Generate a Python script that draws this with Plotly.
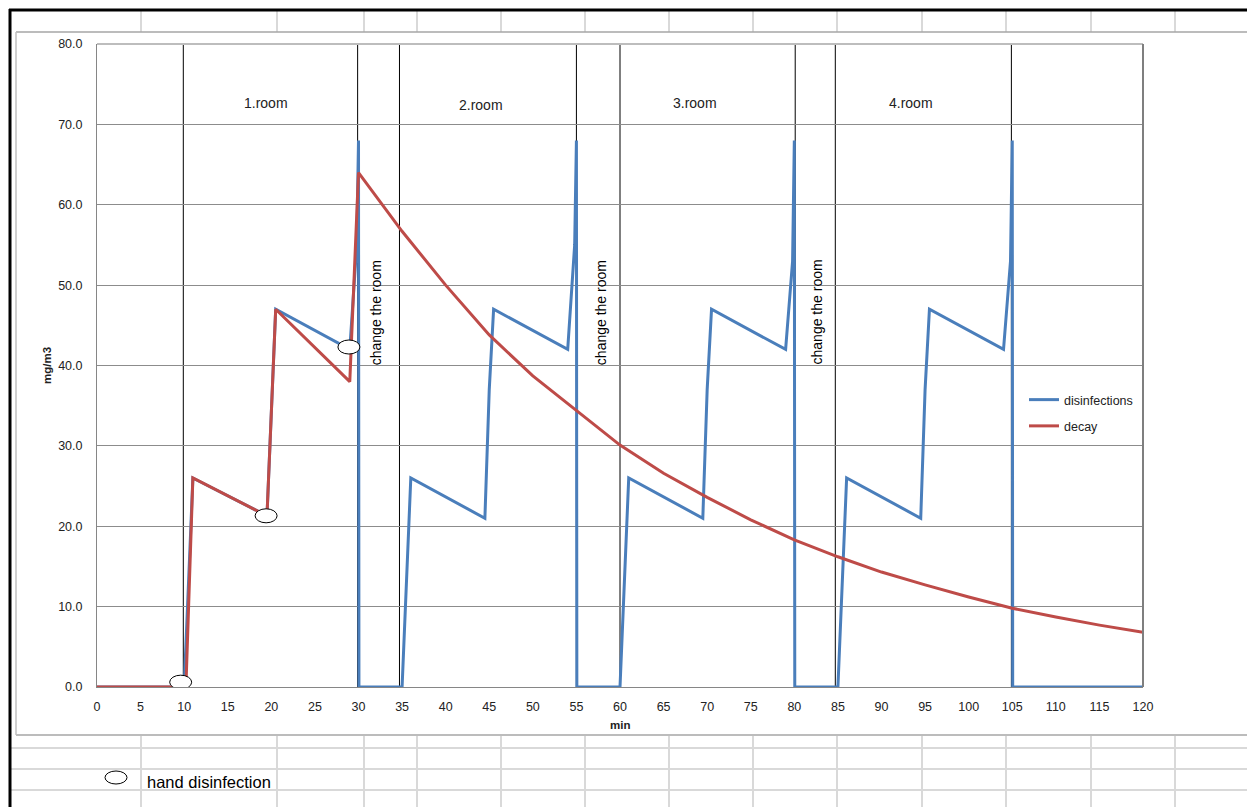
import plotly.graph_objects as go

# ---------------- data ----------------
disinf_x = [0, 10, 11, 19.5, 20.5, 29, 29.8, 30, 30.05,
            35, 36, 44.5, 45.0, 45.5, 54, 54.8, 55, 55.05,
            60, 61, 69.5, 70.0, 70.5, 79, 79.8, 80, 80.05,
            85, 86, 94.5, 95.0, 95.5, 104, 104.8, 105, 105.05, 120]
disinf_y = [0, 0, 26, 21.3, 47, 42, 55, 68, 0,
            0, 26, 21, 37, 47, 42, 55, 68, 0,
            0, 26, 21, 37, 47, 42, 53, 68, 0,
            0, 26, 21, 37, 47, 42, 53, 68, 0, 0]

decay_x = [0, 10.2, 11, 19.5, 20.5, 29, 30, 35, 40, 45, 50, 55, 60, 65, 70,
           75, 80, 85, 90, 95, 100, 105, 110, 115, 120]
decay_y = [0, 0, 26, 21.3, 47, 38, 64, 56.7, 50.0, 43.8, 38.7, 34.4, 30.1,
           26.6, 23.6, 20.8, 18.3, 16.2, 14.3, 12.7, 11.2, 9.8, 8.7, 7.7, 6.8]

hand_x = [9.6, 19.4, 28.9]
hand_y = [0.6, 21.3, 42.3]

divider_x = [9.9, 29.9, 34.7, 55.0, 60.0, 80.1, 84.7, 104.9]

room_labels = ["1.room", "2.room", "3.room", "4.room"]
room_label_x = [19.4, 44.0, 68.6, 93.4]
room_label_y = [72.7, 72.4, 72.7, 72.7]

change_label = "change the room"
change_x = [32.1, 57.9, 82.6]
change_y = [46.6, 46.6, 46.6]

x_ticks = list(range(0, 121, 5))
y_ticks = list(range(0, 81, 10))

# ---------------- geometry helpers ----------------
W, H = 1247, 807
L, R, T, B = 97, 1143, 44, 687   # plot area in screen pixels


def px(xp):
    return (xp - L) / (R - L)


def py(yp):
    return 1 - (yp - T) / (B - T)


BLUE = "#4a7ebb"
RED = "#be4b48"
FONT = "Liberation Sans"

fig = go.Figure()
fig.add_trace(go.Scatter(x=disinf_x, y=disinf_y, mode="lines", name="disinfections",
                         line=dict(color=BLUE, width=3), legendgroup="a"))
fig.add_trace(go.Scatter(x=decay_x, y=decay_y, mode="lines", name="decay",
                         line=dict(color=RED, width=3), legendgroup="b"))

shapes = []
for xv in divider_x:
    shapes.append(dict(type="line", xref="x", yref="paper", x0=xv, x1=xv, y0=0, y1=1,
                       line=dict(color="black", width=1), layer="below"))
for xv, yv in zip(hand_x, hand_y):
    shapes.append(dict(type="circle", xref="x", yref="y", xsizemode="pixel", ysizemode="pixel",
                       xanchor=xv, yanchor=yv, x0=-11, x1=11, y0=-7, y1=7,
                       fillcolor="white", line=dict(color="black", width=1), layer="above"))

# plot area border (top / right)
shapes.append(dict(type="line", xref="paper", yref="paper", x0=0, x1=1, y0=1, y1=1,
                   line=dict(color="#bdbdbd", width=2)))
shapes.append(dict(type="line", xref="paper", yref="paper", x0=1, x1=1, y0=0, y1=1,
                   line=dict(color="#7f7f7f", width=2)))

# spreadsheet background
grid_col = "#d9d9d9"
cols = [141, 277, 364, 417, 501, 585, 669, 753, 837, 922, 1006, 1091, 1175]
for c in cols:
    shapes.append(dict(type="line", xref="paper", yref="paper", x0=px(c), x1=px(c),
                       y0=py(11), y1=py(32), line=dict(color=grid_col, width=2)))
    shapes.append(dict(type="line", xref="paper", yref="paper", x0=px(c), x1=px(c),
                       y0=py(736), y1=py(807), line=dict(color=grid_col, width=2)))
for r in [748, 769, 790]:
    shapes.append(dict(type="line", xref="paper", yref="paper", x0=px(11), x1=px(1250),
                       y0=py(r), y1=py(r), line=dict(color=grid_col, width=2)))
shapes.append(dict(type="line", xref="paper", yref="paper", x0=px(16), x1=px(1250),
                   y0=py(32), y1=py(32), line=dict(color="#a6a6a6", width=1.5)))
shapes.append(dict(type="line", xref="paper", yref="paper", x0=px(16), x1=px(1250),
                   y0=py(735), y1=py(735), line=dict(color="#a6a6a6", width=1.5)))
shapes.append(dict(type="line", xref="paper", yref="paper", x0=px(16), x1=px(16),
                   y0=py(32), y1=py(735), line=dict(color="#bfbfbf", width=1.5)))
shapes.append(dict(type="line", xref="paper", yref="paper", x0=px(9), x1=px(1250),
                   y0=py(10), y1=py(10), line=dict(color="black", width=3)))
shapes.append(dict(type="line", xref="paper", yref="paper", x0=px(10), x1=px(10),
                   y0=py(9), y1=py(810), line=dict(color="black", width=3)))
shapes.append(dict(type="circle", xref="paper", yref="paper", x0=px(105), x1=px(127),
                   y0=py(771), y1=py(784), fillcolor="white",
                   line=dict(color="black", width=1)))

annotations = []
for t, xv, yv in zip(room_labels, room_label_x, room_label_y):
    annotations.append(dict(x=xv, y=yv, xref="x", yref="y", text=t, showarrow=False,
                            xanchor="center", yanchor="middle",
                            font=dict(family=FONT, size=14, color="#222")))
for xv, yv in zip(change_x, change_y):
    annotations.append(dict(x=xv, y=yv, xref="x", yref="y", text=change_label, showarrow=False,
                            textangle=-90, xanchor="center", yanchor="middle",
                            font=dict(family=FONT, size=14, color="black")))
annotations.append(dict(x=px(47), y=py(366), xref="paper", yref="paper", text="<b>mg/m3</b>",
                        showarrow=False, textangle=-90, xanchor="center", yanchor="middle",
                        font=dict(family=FONT, size=11.5, color="#222")))
annotations.append(dict(x=px(620), y=py(725), xref="paper", yref="paper", text="<b>min</b>",
                        showarrow=False, xanchor="center", yanchor="middle",
                        font=dict(family=FONT, size=11.5, color="#222")))
annotations.append(dict(x=px(145), y=py(782), xref="paper", yref="paper", text="hand disinfection",
                        showarrow=False, xanchor="left", yanchor="middle",
                        font=dict(family=FONT, size=16.5, color="black")))

fig.update_layout(
    width=W, height=H,
    margin=dict(l=L, r=W - R, t=T, b=H - B, pad=0),
    paper_bgcolor="white", plot_bgcolor="white",
    font=dict(family=FONT, size=12, color="#222"),
    showlegend=True,
    legend=dict(x=px(1024), y=py(385), xanchor="left", yanchor="top",
                font=dict(family=FONT, size=12.5, color="#222"),
                bgcolor="rgba(0,0,0,0)", itemwidth=30, tracegroupgap=7,
                traceorder="grouped"),
    shapes=shapes,
    annotations=annotations,
    xaxis=dict(range=[0, 120], tickmode="array", tickvals=x_ticks,
               ticktext=[str(v) for v in x_ticks], showgrid=False, zeroline=False,
               showline=True, linecolor="#868686", linewidth=1, ticks="",
               tickfont=dict(family=FONT, size=12.5, color="#222"), ticklabelstandoff=8),
    yaxis=dict(range=[0, 80], tickmode="array", tickvals=y_ticks,
               ticktext=[f"{v:.1f}" for v in y_ticks], showgrid=True, gridcolor="#8c8c8c",
               gridwidth=1, zeroline=False, showline=True, linecolor="#868686", linewidth=1,
               ticks="", tickfont=dict(family=FONT, size=12.5, color="#222"),
               ticklabelstandoff=11),
)

fig.write_html("out.html", config={"displayModeBar": False},
               post_script="document.body.style.margin='0';document.body.style.overflow='hidden';")
